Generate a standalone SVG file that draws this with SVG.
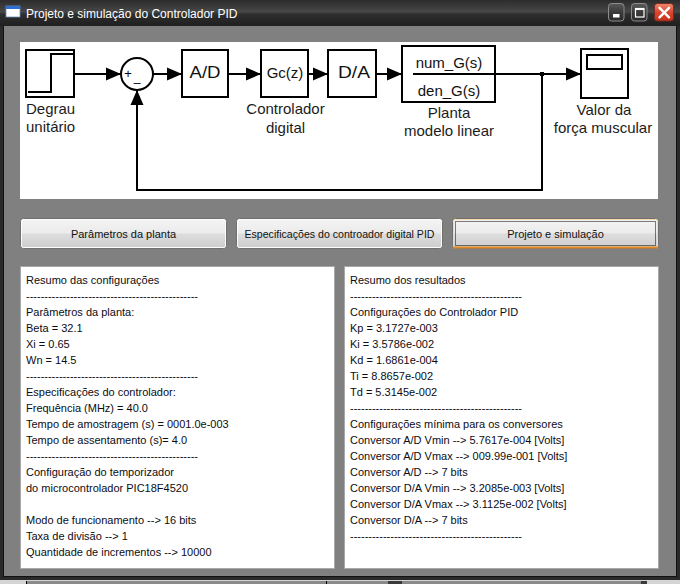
<svg xmlns="http://www.w3.org/2000/svg" width="680" height="584" viewBox="0 0 680 584">
<defs>
<linearGradient id="titleGrad" x1="0" y1="0" x2="0" y2="1">
<stop offset="0" stop-color="#2c2c2c"/>
<stop offset="0.45" stop-color="#474747"/>
<stop offset="0.55" stop-color="#2e2e2e"/>
<stop offset="1" stop-color="#1f1f1f"/>
</linearGradient>
<linearGradient id="btnGrad" x1="0" y1="0" x2="0" y2="1">
<stop offset="0" stop-color="#f4f4f4"/>
<stop offset="0.48" stop-color="#ebebeb"/>
<stop offset="0.52" stop-color="#dddddd"/>
<stop offset="1" stop-color="#cdcdcd"/>
</linearGradient>
<linearGradient id="capGrad" x1="0" y1="0" x2="0" y2="1">
<stop offset="0" stop-color="#5a5a5a"/>
<stop offset="0.5" stop-color="#3a3a3a"/>
<stop offset="1" stop-color="#2a2a2a"/>
</linearGradient>
<linearGradient id="closeGrad" x1="0" y1="0" x2="0" y2="1">
<stop offset="0" stop-color="#ec8a72"/>
<stop offset="0.5" stop-color="#d9462f"/>
<stop offset="1" stop-color="#c8321c"/>
</linearGradient>
<marker id="arr" markerUnits="userSpaceOnUse" markerWidth="16" markerHeight="14" viewBox="0 0 16 14" refX="15" refY="7" orient="auto">
<path d="M0,0.5 L15,7 L0,13.5 z" fill="#000"/>
</marker>
</defs>
<style>
.blk{fill:#fff;stroke:#000;stroke-width:2}
.wire{fill:none;stroke:#000;stroke-width:2}
.lbl{font-family:"Liberation Sans",Arial,sans-serif;font-size:15px;fill:#1c1c1c}
.inb{font-family:"Liberation Sans",Arial,sans-serif;fill:#111;text-anchor:middle}
.pt{font-family:"Liberation Sans",Tahoma,sans-serif;font-size:11px;fill:#0c0c14}
.bt{font-family:"Liberation Sans",Tahoma,sans-serif;font-size:11px;fill:#111;text-anchor:middle}
.panel{fill:#fff;stroke:#a8a8a8;stroke-width:1}
.btn{fill:url(#btnGrad);stroke:#707070;stroke-width:1}
.btnin{fill:none;stroke:#fcfcfc;stroke-width:1}
</style>

<g id="window">
<rect x="0" y="0" width="680" height="584" fill="#2a2a2a"/>
<rect x="0" y="0" width="680" height="26" fill="url(#titleGrad)"/>
<rect x="4" y="26" width="672" height="550" fill="#808080"/>
<line x1="3.5" y1="26" x2="3.5" y2="577" stroke="#111"/>
<line x1="676.5" y1="26" x2="676.5" y2="577" stroke="#111"/>
<line x1="3" y1="576.5" x2="677" y2="576.5" stroke="#111"/>
<rect x="0" y="580" width="680" height="4" fill="#8a8a8a"/>
<line x1="0" y1="580.5" x2="680" y2="580.5" stroke="#d6d6d6"/>
<rect x="0" y="581" width="26" height="3" fill="#d4d4d4"/>
<line x1="26.5" y1="581" x2="26.5" y2="584" stroke="#000"/>
<line x1="326.5" y1="581" x2="326.5" y2="584" stroke="#000"/>
<rect x="388" y="581" width="14" height="3" fill="#3a3a3a"/>
<rect x="641" y="581" width="6" height="3" fill="#3a3a3a"/>
<rect x="647" y="581" width="33" height="3" fill="#d4d4d4"/>
</g>

<g id="titlebar">
<rect x="6" y="6" width="14" height="11" fill="#fff" stroke="#6f8fb8" stroke-width="0.8"/>
<rect x="6" y="6" width="14" height="3" fill="#2a6fd1"/>
<text x="26" y="18" font-family="'Liberation Sans',Arial,sans-serif" font-size="12" fill="#fff">Projeto e simulação do Controlador PID</text>
<rect x="608.5" y="3.5" width="15.5" height="17.5" rx="3" fill="url(#capGrad)" stroke="#8c8c8c"/>
<rect x="613" y="14" width="6.5" height="3.5" fill="#fff"/>
<rect x="631.5" y="3.5" width="15.5" height="17.5" rx="3" fill="url(#capGrad)" stroke="#8c8c8c"/>
<rect x="635.5" y="8.5" width="8.5" height="8.5" fill="none" stroke="#fff" stroke-width="1.2"/>
<rect x="635.5" y="8" width="8.5" height="2" fill="#fff"/>
<rect x="654.5" y="3.5" width="19" height="17.5" rx="3" fill="url(#closeGrad)" stroke="#7a2a1e"/>
<path d="M659.5,7.8 L669,17.3 M669,7.8 L659.5,17.3" stroke="#fff" stroke-width="2.4" stroke-linecap="round"/>
</g>

<g id="diagram-area">
<rect x="20" y="42" width="638" height="157" fill="#fff"/>
</g>

<g id="connectors">
<path class="wire" d="M74,74 H121" marker-end="url(#arr)"/>
<path class="wire" d="M153,74 H182" marker-end="url(#arr)"/>
<path class="wire" d="M228,74 H261" marker-end="url(#arr)"/>
<path class="wire" d="M308,74 H328" marker-end="url(#arr)"/>
<path class="wire" d="M376,74 H402" marker-end="url(#arr)"/>
<path class="wire" d="M495,74 H581" marker-end="url(#arr)"/>
<path class="wire" d="M542,74 V190 H137 V90" marker-end="url(#arr)"/>
<rect x="540" y="72" width="4" height="4" fill="#000"/>
</g>

<g id="step">
<rect class="blk" x="26" y="50" width="48" height="47"/>
<path class="wire" d="M28,92 H51 V54 H73"/>
<text class="lbl" x="26" y="114">Degrau</text>
<text class="lbl" x="26" y="132">unitário</text>
</g>

<g id="sum">
<circle cx="137" cy="74" r="16" fill="#fff" stroke="#000" stroke-width="2"/>
<text x="128" y="78" font-family="'Liberation Sans',Arial,sans-serif" font-size="13" fill="#000" text-anchor="middle">+</text>
<text x="137" y="81" font-family="'Liberation Sans',Arial,sans-serif" font-size="12" fill="#000" text-anchor="middle">_</text>
</g>

<g id="ad">
<rect class="blk" x="182" y="50" width="46" height="47"/>
<text class="inb" x="205" y="78" font-size="17" textLength="31" lengthAdjust="spacingAndGlyphs">A/D</text>
</g>

<g id="gc">
<rect class="blk" x="261" y="50" width="47" height="47"/>
<text class="inb" x="285" y="78" font-size="15">Gc(z)</text>
<text class="lbl" x="285.5" y="114" text-anchor="middle">Controlador</text>
<text class="lbl" x="285.5" y="133" text-anchor="middle">digital</text>
</g>

<g id="da">
<rect class="blk" x="328" y="50" width="48" height="47"/>
<text class="inb" x="354" y="78" font-size="17" textLength="32" lengthAdjust="spacingAndGlyphs">D/A</text>
</g>

<g id="plant">
<rect class="blk" x="402" y="46" width="93" height="56"/>
<path class="wire" d="M413,74 H495"/>
<text class="inb" x="449" y="68" font-size="15">num_G(s)</text>
<text class="inb" x="449" y="96" font-size="15">den_G(s)</text>
<text class="lbl" x="449" y="118" text-anchor="middle">Planta</text>
<text class="lbl" x="449" y="136" text-anchor="middle">modelo linear</text>
</g>

<g id="scope">
<rect class="blk" x="581" y="49" width="47" height="49"/>
<rect x="587" y="55" width="35" height="14" fill="none" stroke="#000" stroke-width="2"/>
<text class="lbl" x="604" y="115" text-anchor="middle">Valor da</text>
<text class="lbl" x="603" y="133" text-anchor="middle">força muscular</text>
</g>

<g id="btn-planta">
<rect class="btn" x="20.5" y="218.5" width="206" height="30" rx="3"/>
<rect class="btnin" x="21.5" y="219.5" width="204" height="28" rx="2"/>
<text class="bt" x="123.5" y="238">Parâmetros da planta</text>
</g>

<g id="btn-especificacoes">
<rect class="btn" x="236.5" y="218.5" width="206" height="30" rx="3"/>
<rect class="btnin" x="237.5" y="219.5" width="204" height="28" rx="2"/>
<text class="bt" x="339.5" y="238" textLength="190" lengthAdjust="spacingAndGlyphs">Especificações do controador digital PID</text>
</g>

<g id="btn-projeto">
<rect class="btn" x="452.5" y="218.5" width="206" height="30" rx="3" stroke="#c98a3e"/>
<rect x="453.5" y="219.5" width="204" height="28" rx="2" fill="none" stroke="#f5d9a8"/>
<line x1="453" y1="247.5" x2="658" y2="247.5" stroke="#e58a1f" stroke-width="2"/>
<rect x="455.5" y="221.5" width="200" height="24" fill="none" stroke="#000" stroke-width="1" stroke-dasharray="1,1"/>
<text class="bt" x="555.5" y="238">Projeto e simulação</text>
</g>

<g id="panel-config">
<rect class="panel" x="20.5" y="266.5" width="314" height="302"/>
<text class="pt" x="26" y="284">Resumo das configurações</text>
<text class="pt" x="26" y="300" textLength="172">-----------------------------------------------</text>
<text class="pt" x="26" y="316">Parâmetros da planta:</text>
<text class="pt" x="26" y="332">Beta = 32.1</text>
<text class="pt" x="26" y="348">Xi = 0.65</text>
<text class="pt" x="26" y="364">Wn = 14.5</text>
<text class="pt" x="26" y="380" textLength="172">-----------------------------------------------</text>
<text class="pt" x="26" y="396">Especificações do controlador:</text>
<text class="pt" x="26" y="412">Frequência (MHz) = 40.0</text>
<text class="pt" x="26" y="428">Tempo de amostragem (s) = 0001.0e-003</text>
<text class="pt" x="26" y="444">Tempo de assentamento (s)= 4.0</text>
<text class="pt" x="26" y="460" textLength="172">-----------------------------------------------</text>
<text class="pt" x="26" y="476">Configuração do temporizador</text>
<text class="pt" x="26" y="492">do microcontrolador PIC18F4520</text>
<text class="pt" x="26" y="524">Modo de funcionamento --&gt; 16 bits</text>
<text class="pt" x="26" y="540">Taxa de divisão --&gt; 1</text>
<text class="pt" x="26" y="556">Quantidade de incrementos --&gt; 10000</text>
</g>

<g id="panel-resultados">
<rect class="panel" x="344.5" y="266.5" width="314" height="302"/>
<text class="pt" x="350" y="284">Resumo dos resultados</text>
<text class="pt" x="350" y="300" textLength="172">-----------------------------------------------</text>
<text class="pt" x="350" y="316">Configurações do Controlador PID</text>
<text class="pt" x="350" y="332">Kp = 3.1727e-003</text>
<text class="pt" x="350" y="348">Ki = 3.5786e-002</text>
<text class="pt" x="350" y="364">Kd = 1.6861e-004</text>
<text class="pt" x="350" y="380">Ti = 8.8657e-002</text>
<text class="pt" x="350" y="396">Td = 5.3145e-002</text>
<text class="pt" x="350" y="412" textLength="172">-----------------------------------------------</text>
<text class="pt" x="350" y="428">Configurações mínima para os conversores</text>
<text class="pt" x="350" y="444">Conversor A/D Vmin --&gt; 5.7617e-004 [Volts]</text>
<text class="pt" x="350" y="460">Conversor A/D Vmax --&gt; 009.99e-001 [Volts]</text>
<text class="pt" x="350" y="476">Conversor A/D --&gt; 7 bits</text>
<text class="pt" x="350" y="492">Conversor D/A Vmin --&gt; 3.2085e-003 [Volts]</text>
<text class="pt" x="350" y="508">Conversor D/A Vmax --&gt; 3.1125e-002 [Volts]</text>
<text class="pt" x="350" y="524">Conversor D/A --&gt; 7 bits</text>
<text class="pt" x="350" y="540" textLength="172">-----------------------------------------------</text>
</g>
</svg>
